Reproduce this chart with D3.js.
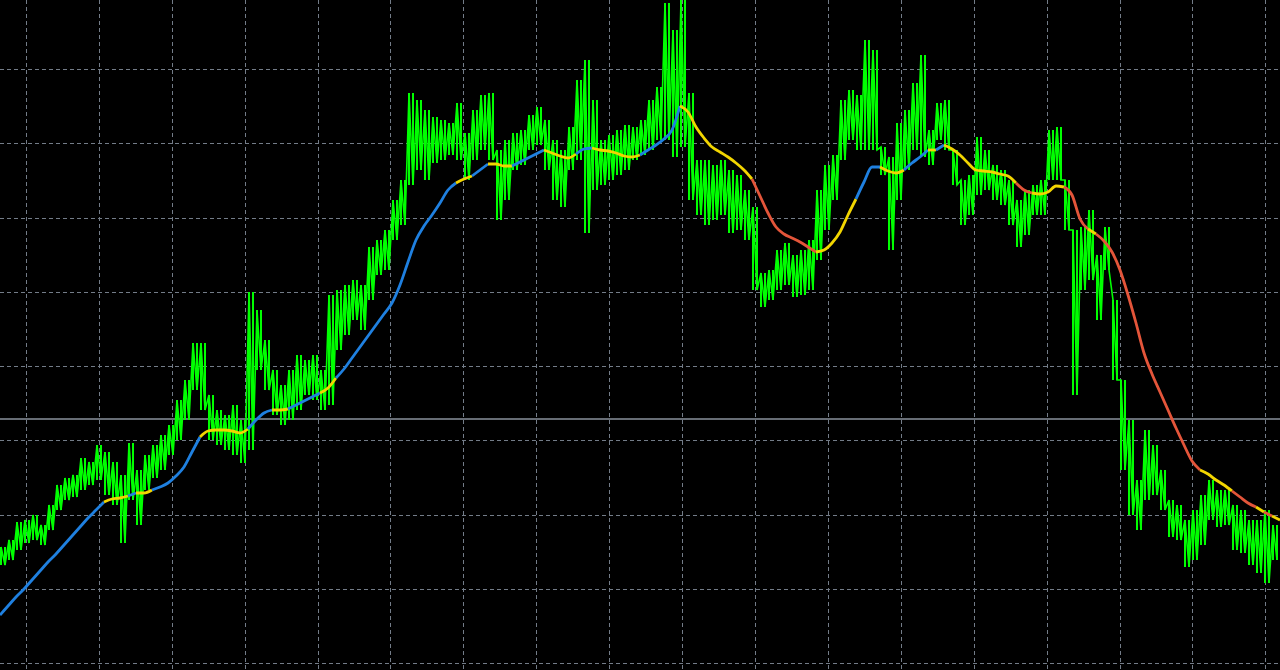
<!DOCTYPE html>
<html>
<head>
<meta charset="utf-8">
<script src="https://cdn.jsdelivr.net/npm/d3@7"></script>
<style>
  html, body { margin: 0; padding: 0; background: #000; overflow: hidden; }
  svg { display: block; }
</style>
</head>
<body>
<svg id="chart" width="1280" height="670"></svg>
<script>
// ---- data (bar index 0..160, price units) ----
// green price: per-bar high / low
const priceHigh = [123,130,148,150,155,145,165,185,192,195,212,208,225,218,208,195,227,200,215,225,
  235,245,270,290,327,327,275,260,255,265,250,378,360,330,300,285,300,315,310,315,
  300,375,380,385,390,385,423,430,440,470,490,577,570,560,553,550,547,567,537,560,
  575,577,520,530,537,540,555,563,550,530,520,543,590,610,570,530,535,540,545,543,
  550,570,583,667,640,670,577,510,510,505,510,500,495,480,463,397,400,420,427,415,
  420,430,480,505,515,570,580,575,630,620,523,513,547,560,587,615,540,567,570,520,
  490,495,533,520,505,500,490,470,480,485,490,540,543,490,440,443,460,415,443,370,
  290,250,190,240,225,200,170,165,150,160,175,190,180,180,165,160,150,150,160,145];
const priceLow = [105,110,120,127,130,125,140,160,170,173,180,185,190,175,165,127,170,145,180,192,
  200,215,230,250,280,260,230,225,220,215,207,220,300,280,255,245,250,260,275,270,
  260,265,320,335,350,340,370,395,400,430,445,485,500,490,507,510,515,510,490,510,
  520,510,450,470,500,505,520,525,500,470,463,500,510,437,480,485,490,495,500,510,
  515,520,530,530,513,523,470,455,445,450,455,437,440,430,380,363,370,380,385,373,
  375,380,410,440,470,510,530,520,520,520,495,420,470,500,520,513,505,530,520,485,
  445,455,475,480,470,465,445,423,435,455,455,490,490,440,275,380,390,350,400,290,
  200,155,140,170,175,160,133,130,103,110,125,150,143,145,120,117,105,97,87,110];
// moving average, one value per bar boundary (161 values)
const maValues = [55,64,73,81,90,99,108,116,125,134,143,152,160,168,171,172,174,177,177,180,
  183,187,194,203,218,233,239,240,240,239,237,241,250,257,260,260,261,265,269,273,
  277,282,292,301,312,323,334,345,356,367,385,408,430,444,455,467,480,487,491,494,
  500,506,506,504,504,508,512,516,520,517,514,512,516,521,522,520,519,517,514,513,
  515,520,525,531,540,564,558,543,532,523,518,513,507,500,491,474,457,443,436,432,
  428,423,418,420,427,438,455,471,488,503,503,499,497,500,507,513,520,520,525,521,
  515,507,500,499,498,496,494,487,480,477,476,478,484,483,475,451,441,436,429,418,
  400,375,347,317,296,278,260,242,225,209,200,196,190,185,179,173,167,163,158,154,150];
// trend state runs for the MA: [bar count, state]  (u = rising, f = flat, d = falling)
const maTrendRuns = [[13,'u'],[3,'f'],[1,'u'],[2,'f'],[6,'u'],[6,'f'],[3,'u'],[2,'f'],[4,'u'],[2,'f'],
  [15,'u'],[2,'f'],[2,'u'],[3,'f'],[4,'u'],[4,'f'],[2,'u'],[6,'f'],[5,'u'],[9,'f'],
  [8,'d'],[5,'f'],[3,'u'],[3,'f'],[3,'u'],[1,'f'],[1,'u'],[9,'f'],[2,'d'],[4,'f'],
  [3,'d'],[1,'f'],[13,'d'],[4,'f'],[3,'d'],[1,'f'],[1,'d'],[1,'f']];
// grid positions (bar index / price units) and the horizontal level line
const gridBars = [3.25,12.36,21.47,30.59,39.70,48.81,57.93,67.04,76.15,85.26,94.38,103.49,112.60,121.72,130.83,139.94,149.05,158.17];
const gridPrices = [601,526.75,452.5,378.25,304,229.75,155.5,81.25,7];
const levelPrice = 251;

// ---- drawing ----
const W = 1280, H = 670;
const svg = d3.select('#chart');
const x = d3.scaleLinear().domain([0, 160]).range([0, W]);
const y = d3.scaleLinear().domain([0, 670]).range([H, 0]);
const trendColor = { u: '#1f80e0', f: '#f2d500', d: '#e4553a' };

svg.append('rect').attr('width', W).attr('height', H).attr('fill', '#000');

const grid = svg.append('g').attr('stroke', '#737c88').attr('stroke-width', 1)
  .attr('stroke-dasharray', '4,3').attr('shape-rendering', 'crispEdges');
grid.selectAll('line.v').data(gridBars).enter().append('line').attr('class', 'v')
  .attr('x1', d => Math.round(x(d)) + 0.5).attr('x2', d => Math.round(x(d)) + 0.5)
  .attr('y1', 0).attr('y2', H);
grid.selectAll('line.h').data(gridPrices).enter().append('line').attr('class', 'h')
  .attr('x1', 0).attr('x2', W)
  .attr('y1', d => Math.round(y(d)) + 0.5).attr('y2', d => Math.round(y(d)) + 0.5);

svg.append('line').attr('x1', 0).attr('x2', W)
  .attr('y1', y(levelPrice)).attr('y2', y(levelPrice))
  .attr('stroke', '#8a929c').attr('stroke-width', 1.6);

// price: vertical high-low strokes plus a zigzag through high and low of each bar
const priceG = svg.append('g').attr('stroke', '#00ff00').attr('fill', 'none');
const bars = priceHigh.map((h, i) => ({ i, h, l: priceLow[i] }));
[0, 0.5].forEach(off => {
  priceG.selectAll(null).data(bars).enter().append('line')
    .attr('x1', d => x(d.i + off) + 1).attr('x2', d => x(d.i + off) + 1)
    .attr('y1', d => y(d.h)).attr('y2', d => y(d.l))
    .attr('stroke-width', 2);
});
const pricePts = [];
bars.forEach(d => {
  pricePts.push([x(d.i) + 1, y(d.h)]);
  pricePts.push([x(d.i + 0.5) + 1, y(d.l)]);
});
priceG.append('path').datum(pricePts)
  .attr('d', d3.line())
  .attr('stroke-width', 1.6).attr('stroke-linejoin', 'miter');

// MA coloured by trend runs
let start = 0;
const maG = svg.append('g');
maTrendRuns.forEach(([n, s]) => {
  const pts = [];
  for (let i = start; i <= start + n; i++) pts.push([x(i), y(maValues[i])]);
  maG.append('path').datum(pts)
    .attr('d', d3.line().curve(d3.curveMonotoneX))
    .attr('fill', 'none').attr('stroke', trendColor[s]).attr('stroke-width', 2.8)
    .attr('stroke-linecap', 'butt').attr('stroke-linejoin', 'round');
  start += n;
});
</script>
</body>
</html>
